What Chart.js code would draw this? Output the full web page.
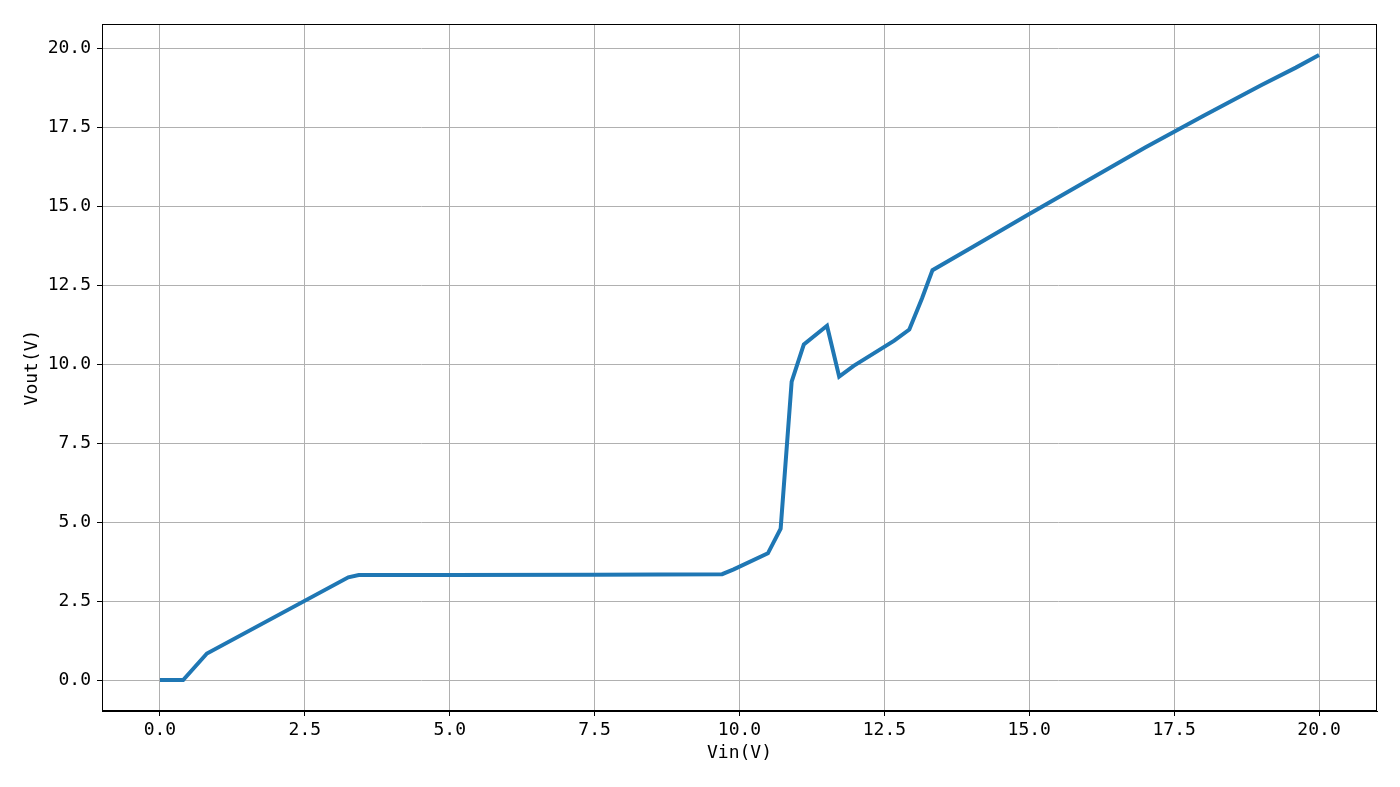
<!DOCTYPE html>
<html>
<head>
<meta charset="utf-8">
<script src="https://cdn.jsdelivr.net/npm/chart.js@4/dist/chart.umd.min.js"></script>
<style>
  html, body { margin: 0; padding: 0; background: #fff; }
  #wrap { width: 1400px; height: 787px; }
</style>
</head>
<body>
<div id="wrap"><canvas id="chart" width="1400" height="787"></canvas></div>
<script>
const vin  = [0, 0.40, 0.81, 3.25, 3.43, 5.0, 7.5, 9.70, 9.90, 10.49, 10.71, 10.90, 11.11, 11.51, 11.72, 11.97, 12.67, 12.93, 13.15, 13.33, 14.0, 15.0, 16.0, 17.0, 17.5, 18.0, 19.0, 19.6, 20.0];
const vout = [0, 0, 0.84, 3.25, 3.32, 3.32, 3.33, 3.35, 3.50, 4.01, 4.79, 9.44, 10.62, 11.21, 9.60, 9.94, 10.74, 11.09, 12.08, 12.97, 13.68, 14.75, 15.80, 16.85, 17.35, 17.85, 18.82, 19.38, 19.78];
const tickVals = [0, 2.5, 5, 7.5, 10, 12.5, 15, 17.5, 20];

const points = vin.map((x, i) => ({ x: x, y: vout[i] }));

const frame = {
    id: 'frame',
    afterDraw(chart) {
        const a = chart.chartArea;
        const ctx = chart.ctx;
        ctx.save();
        ctx.strokeStyle = '#000';
        ctx.lineWidth = 1;
        ctx.strokeRect(a.left + 0.5, a.top + 0.5, a.right - a.left - 1, a.bottom - a.top - 1);
        ctx.restore();
    }
};

const tickFont = { family: 'DejaVu Sans Mono', size: 18 };

new Chart(document.getElementById('chart'), {
    type: 'scatter',
    data: {
        datasets: [{
            data: points,
            showLine: true,
            borderColor: '#1f77b4',
            borderWidth: 4,
            pointRadius: 0,
            fill: false,
            tension: 0
        }]
    },
    options: {
        responsive: false,
        animation: false,
        layout: { padding: { left: 0, right: 23, top: 24, bottom: 0 } },
        plugins: { legend: { display: false }, tooltip: { enabled: false } },
        scales: {
            x: {
                type: 'linear',
                min: -1.0,
                max: 21.0,
                afterBuildTicks: (ax) => { ax.ticks = tickVals.map(v => ({ value: v })); },
                afterFit: (ax) => { ax.height = 76; },
                ticks: {
                    color: '#000',
                    font: tickFont,
                    padding: 4,
                    maxRotation: 0,
                    callback: (v) => Number(v).toFixed(1)
                },
                grid: { color: '#b0b0b0', lineWidth: 1, tickLength: 5, tickColor: '#000' },
                border: { color: '#000' },
                title: { display: true, text: 'Vin(V)', color: '#000', font: tickFont, padding: { top: 0, bottom: 23 } }
            },
            y: {
                type: 'linear',
                min: -0.98,
                max: 20.76,
                afterBuildTicks: (ax) => { ax.ticks = tickVals.map(v => ({ value: v })); },
                afterFit: (ax) => { ax.width = 102; },
                ticks: {
                    color: '#000',
                    font: tickFont,
                    padding: 6,
                    callback: (v) => Number(v).toFixed(1)
                },
                grid: { color: '#b0b0b0', lineWidth: 1, tickLength: 5, tickColor: '#000' },
                border: { color: '#000' },
                title: { display: true, text: 'Vout(V)', color: '#000', font: tickFont, padding: { top: 22, bottom: 0 } }
            }
        }
    },
    plugins: [frame]
});
</script>
</body>
</html>
